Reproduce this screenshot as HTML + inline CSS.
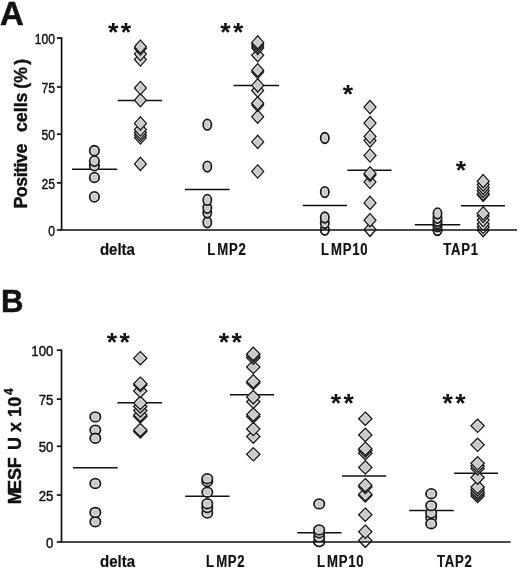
<!DOCTYPE html>
<html><head><meta charset="utf-8"><title>Figure</title>
<style>
html,body{margin:0;padding:0;background:#fff;}
body{width:520px;height:574px;overflow:hidden;}
svg{display:block;will-change:transform;}
text{font-family:"Liberation Sans",sans-serif;fill:#111;}
.panel{font-size:30.5px;font-weight:bold;stroke:#111;stroke-width:0.5px;}
.tick{font-size:15.2px;stroke:#111;stroke-width:0.45px;}
.xl{font-size:15px;font-weight:bold;stroke:#111;stroke-width:0.2px;}
.yl{font-size:17.5px;font-weight:bold;stroke:#111;stroke-width:0.4px;}
.star{font-size:26.6px;font-weight:bold;letter-spacing:2.4px;}
</style></head>
<body>
<svg width="520" height="574" viewBox="0 0 520 574">
<rect width="520" height="574" fill="#fff"/>
<text class="panel" style="font-size:33.4px" transform="translate(0.1,24.6) scale(0.985,1)">A</text>
<text class="panel" style="font-size:31.1px" x="0.9" y="312.0">B</text>
<text class="yl" style="font-size:17.8px" transform="translate(26.8,208.6) rotate(-90)"><tspan letter-spacing="-0.45">Positive</tspan><tspan dx="7.0"> cells</tspan><tspan dx="-1.2"> (%</tspan><tspan dx="-2.7"> )</tspan></text>
<text class="yl" style="font-size:18px" transform="translate(20.9,504.3) rotate(-90)">M<tspan dx="-2.6">ES</tspan><tspan dx="-0.3">F</tspan><tspan dx="2.3"> U x 10</tspan><tspan font-size="12px" dx="1.8" dy="-8.2">4</tspan></text>
<g stroke="#111" stroke-width="1.5" fill="none">
<line x1="72.0" y1="169.2" x2="117.2" y2="169.2"/>
<line x1="117.7" y1="100.4" x2="162.1" y2="100.4"/>
<line x1="185.0" y1="189.5" x2="229.6" y2="189.5"/>
<line x1="233.6" y1="85.5" x2="279.1" y2="85.5"/>
<line x1="302.8" y1="205.6" x2="347.0" y2="205.6"/>
<line x1="347.4" y1="170.2" x2="391.5" y2="170.2"/>
<line x1="414.8" y1="224.7" x2="460.3" y2="224.7"/>
<line x1="460.9" y1="205.7" x2="505.0" y2="205.7"/>
</g>
<g stroke="#1c1c1c" stroke-width="1.35" stroke-linejoin="miter">
<ellipse cx="94.4" cy="196.9" rx="4.7" ry="4.95" fill="#eeeeee" stroke-width="1.8"/><ellipse cx="94.4" cy="196.9" rx="3.00" ry="3.25" fill="#c9c9c9" stroke="none"/>
<ellipse cx="94.4" cy="177.5" rx="4.7" ry="4.95" fill="#eeeeee" stroke-width="1.8"/><ellipse cx="94.4" cy="177.5" rx="3.00" ry="3.25" fill="#c9c9c9" stroke="none"/>
<ellipse cx="94.4" cy="165.7" rx="4.7" ry="4.95" fill="#eeeeee" stroke-width="1.8"/><ellipse cx="94.4" cy="165.7" rx="3.00" ry="3.25" fill="#c9c9c9" stroke="none"/>
<ellipse cx="94.4" cy="161.1" rx="4.7" ry="4.95" fill="#eeeeee" stroke-width="1.8"/><ellipse cx="94.4" cy="161.1" rx="3.00" ry="3.25" fill="#c9c9c9" stroke="none"/>
<ellipse cx="94.4" cy="150.7" rx="4.7" ry="4.95" fill="#eeeeee" stroke-width="1.8"/><ellipse cx="94.4" cy="150.7" rx="3.00" ry="3.25" fill="#c9c9c9" stroke="none"/>
<polygon points="140.4,157.3 146.3,163.9 140.4,170.5 134.5,163.9" fill="#eeeeee"/><polygon points="140.4,159.3 144.4,163.9 140.4,168.5 136.4,163.9" fill="#c9c9c9" stroke="none"/>
<polygon points="140.4,130.9 146.3,137.5 140.4,144.1 134.5,137.5" fill="#eeeeee"/><polygon points="140.4,132.9 144.4,137.5 140.4,142.1 136.4,137.5" fill="#c9c9c9" stroke="none"/>
<polygon points="140.4,128.4 146.3,135.0 140.4,141.6 134.5,135.0" fill="#eeeeee"/><polygon points="140.4,130.4 144.4,135.0 140.4,139.6 136.4,135.0" fill="#c9c9c9" stroke="none"/>
<polygon points="140.4,125.9 146.3,132.5 140.4,139.1 134.5,132.5" fill="#eeeeee"/><polygon points="140.4,127.9 144.4,132.5 140.4,137.1 136.4,132.5" fill="#c9c9c9" stroke="none"/>
<polygon points="140.4,122.9 146.3,129.5 140.4,136.1 134.5,129.5" fill="#eeeeee"/><polygon points="140.4,124.9 144.4,129.5 140.4,134.1 136.4,129.5" fill="#c9c9c9" stroke="none"/>
<polygon points="140.4,116.8 146.3,123.4 140.4,130.0 134.5,123.4" fill="#eeeeee"/><polygon points="140.4,118.8 144.4,123.4 140.4,128.0 136.4,123.4" fill="#c9c9c9" stroke="none"/>
<polygon points="140.4,93.6 146.3,100.2 140.4,106.8 134.5,100.2" fill="#eeeeee"/><polygon points="140.4,95.6 144.4,100.2 140.4,104.8 136.4,100.2" fill="#c9c9c9" stroke="none"/>
<polygon points="140.4,81.4 146.3,88.0 140.4,94.6 134.5,88.0" fill="#eeeeee"/><polygon points="140.4,83.4 144.4,88.0 140.4,92.6 136.4,88.0" fill="#c9c9c9" stroke="none"/>
<polygon points="140.4,52.9 146.3,59.5 140.4,66.1 134.5,59.5" fill="#eeeeee"/><polygon points="140.4,54.9 144.4,59.5 140.4,64.1 136.4,59.5" fill="#c9c9c9" stroke="none"/>
<polygon points="140.4,47.4 146.3,54.0 140.4,60.6 134.5,54.0" fill="#eeeeee"/><polygon points="140.4,49.4 144.4,54.0 140.4,58.6 136.4,54.0" fill="#c9c9c9" stroke="none"/>
<polygon points="140.4,41.8 146.3,48.4 140.4,55.0 134.5,48.4" fill="#eeeeee"/><polygon points="140.4,43.8 144.4,48.4 140.4,53.0 136.4,48.4" fill="#c9c9c9" stroke="none"/>
<polygon points="140.4,40.1 146.3,46.7 140.4,53.3 134.5,46.7" fill="#eeeeee"/><polygon points="140.4,42.1 144.4,46.7 140.4,51.3 136.4,46.7" fill="#c9c9c9" stroke="none"/>
<ellipse cx="207.3" cy="222.3" rx="4.1" ry="5.25" fill="#eeeeee" stroke-width="1.8"/><ellipse cx="207.3" cy="222.3" rx="2.40" ry="3.55" fill="#c9c9c9" stroke="none"/>
<ellipse cx="207.3" cy="212.5" rx="4.1" ry="5.25" fill="#eeeeee" stroke-width="1.8"/><ellipse cx="207.3" cy="212.5" rx="2.40" ry="3.55" fill="#c9c9c9" stroke="none"/>
<ellipse cx="207.3" cy="207.8" rx="4.1" ry="5.25" fill="#eeeeee" stroke-width="1.8"/><ellipse cx="207.3" cy="207.8" rx="2.40" ry="3.55" fill="#c9c9c9" stroke="none"/>
<ellipse cx="207.3" cy="199.9" rx="4.1" ry="5.25" fill="#eeeeee" stroke-width="1.8"/><ellipse cx="207.3" cy="199.9" rx="2.40" ry="3.55" fill="#c9c9c9" stroke="none"/>
<ellipse cx="207.3" cy="166.6" rx="4.1" ry="5.25" fill="#eeeeee" stroke-width="1.8"/><ellipse cx="207.3" cy="166.6" rx="2.40" ry="3.55" fill="#c9c9c9" stroke="none"/>
<ellipse cx="207.3" cy="124.7" rx="4.1" ry="5.25" fill="#eeeeee" stroke-width="1.8"/><ellipse cx="207.3" cy="124.7" rx="2.40" ry="3.55" fill="#c9c9c9" stroke="none"/>
<polygon points="257.7,164.9 263.6,171.5 257.7,178.1 251.8,171.5" fill="#eeeeee"/><polygon points="257.7,166.9 261.7,171.5 257.7,176.1 253.7,171.5" fill="#c9c9c9" stroke="none"/>
<polygon points="257.7,135.3 263.6,141.9 257.7,148.5 251.8,141.9" fill="#eeeeee"/><polygon points="257.7,137.3 261.7,141.9 257.7,146.5 253.7,141.9" fill="#c9c9c9" stroke="none"/>
<polygon points="257.7,110.1 263.6,116.7 257.7,123.3 251.8,116.7" fill="#eeeeee"/><polygon points="257.7,112.1 261.7,116.7 257.7,121.3 253.7,116.7" fill="#c9c9c9" stroke="none"/>
<polygon points="257.7,98.4 263.6,105.0 257.7,111.6 251.8,105.0" fill="#eeeeee"/><polygon points="257.7,100.4 261.7,105.0 257.7,109.6 253.7,105.0" fill="#c9c9c9" stroke="none"/>
<polygon points="257.7,96.7 263.6,103.3 257.7,109.9 251.8,103.3" fill="#eeeeee"/><polygon points="257.7,98.7 261.7,103.3 257.7,107.9 253.7,103.3" fill="#c9c9c9" stroke="none"/>
<polygon points="257.7,83.9 263.6,90.5 257.7,97.1 251.8,90.5" fill="#eeeeee"/><polygon points="257.7,85.9 261.7,90.5 257.7,95.1 253.7,90.5" fill="#c9c9c9" stroke="none"/>
<polygon points="257.7,78.8 263.6,85.4 257.7,92.0 251.8,85.4" fill="#eeeeee"/><polygon points="257.7,80.8 261.7,85.4 257.7,90.0 253.7,85.4" fill="#c9c9c9" stroke="none"/>
<polygon points="257.7,65.4 263.6,72.0 257.7,78.6 251.8,72.0" fill="#eeeeee"/><polygon points="257.7,67.4 261.7,72.0 257.7,76.6 253.7,72.0" fill="#c9c9c9" stroke="none"/>
<polygon points="257.7,63.6 263.6,70.2 257.7,76.8 251.8,70.2" fill="#eeeeee"/><polygon points="257.7,65.6 261.7,70.2 257.7,74.8 253.7,70.2" fill="#c9c9c9" stroke="none"/>
<polygon points="257.7,48.6 263.6,55.2 257.7,61.8 251.8,55.2" fill="#eeeeee"/><polygon points="257.7,50.6 261.7,55.2 257.7,59.8 253.7,55.2" fill="#c9c9c9" stroke="none"/>
<polygon points="257.7,41.4 263.6,48.0 257.7,54.6 251.8,48.0" fill="#eeeeee"/><polygon points="257.7,43.4 261.7,48.0 257.7,52.6 253.7,48.0" fill="#c9c9c9" stroke="none"/>
<polygon points="257.7,39.4 263.6,46.0 257.7,52.6 251.8,46.0" fill="#eeeeee"/><polygon points="257.7,41.4 261.7,46.0 257.7,50.6 253.7,46.0" fill="#c9c9c9" stroke="none"/>
<polygon points="257.7,37.4 263.6,44.0 257.7,50.6 251.8,44.0" fill="#eeeeee"/><polygon points="257.7,39.4 261.7,44.0 257.7,48.6 253.7,44.0" fill="#c9c9c9" stroke="none"/>
<polygon points="257.7,35.8 263.6,42.4 257.7,49.0 251.8,42.4" fill="#eeeeee"/><polygon points="257.7,37.8 261.7,42.4 257.7,47.0 253.7,42.4" fill="#c9c9c9" stroke="none"/>
<ellipse cx="324.8" cy="229.6" rx="4.1" ry="5.25" fill="#eeeeee" stroke-width="1.8"/><ellipse cx="324.8" cy="229.6" rx="2.40" ry="3.55" fill="#c9c9c9" stroke="none"/>
<ellipse cx="324.8" cy="223.0" rx="4.1" ry="5.25" fill="#eeeeee" stroke-width="1.8"/><ellipse cx="324.8" cy="223.0" rx="2.40" ry="3.55" fill="#c9c9c9" stroke="none"/>
<ellipse cx="324.8" cy="217.5" rx="4.1" ry="5.25" fill="#eeeeee" stroke-width="1.8"/><ellipse cx="324.8" cy="217.5" rx="2.40" ry="3.55" fill="#c9c9c9" stroke="none"/>
<ellipse cx="324.8" cy="192.1" rx="4.1" ry="5.25" fill="#eeeeee" stroke-width="1.8"/><ellipse cx="324.8" cy="192.1" rx="2.40" ry="3.55" fill="#c9c9c9" stroke="none"/>
<ellipse cx="324.8" cy="138.0" rx="4.1" ry="5.25" fill="#eeeeee" stroke-width="1.8"/><ellipse cx="324.8" cy="138.0" rx="2.40" ry="3.55" fill="#c9c9c9" stroke="none"/>
<polygon points="370.0,223.0 375.9,229.6 370.0,236.2 364.1,229.6" fill="#eeeeee"/><polygon points="370.0,225.0 374.0,229.6 370.0,234.2 366.0,229.6" fill="#c9c9c9" stroke="none"/>
<polygon points="370.0,213.6 375.9,220.2 370.0,226.8 364.1,220.2" fill="#eeeeee"/><polygon points="370.0,215.6 374.0,220.2 370.0,224.8 366.0,220.2" fill="#c9c9c9" stroke="none"/>
<polygon points="370.0,196.3 375.9,202.9 370.0,209.5 364.1,202.9" fill="#eeeeee"/><polygon points="370.0,198.3 374.0,202.9 370.0,207.5 366.0,202.9" fill="#c9c9c9" stroke="none"/>
<polygon points="370.0,175.4 375.9,182.0 370.0,188.6 364.1,182.0" fill="#eeeeee"/><polygon points="370.0,177.4 374.0,182.0 370.0,186.6 366.0,182.0" fill="#c9c9c9" stroke="none"/>
<polygon points="370.0,168.4 375.9,175.0 370.0,181.6 364.1,175.0" fill="#eeeeee"/><polygon points="370.0,170.4 374.0,175.0 370.0,179.6 366.0,175.0" fill="#c9c9c9" stroke="none"/>
<polygon points="370.0,166.8 375.9,173.4 370.0,180.0 364.1,173.4" fill="#eeeeee"/><polygon points="370.0,168.8 374.0,173.4 370.0,178.0 366.0,173.4" fill="#c9c9c9" stroke="none"/>
<polygon points="370.0,148.9 375.9,155.5 370.0,162.1 364.1,155.5" fill="#eeeeee"/><polygon points="370.0,150.9 374.0,155.5 370.0,160.1 366.0,155.5" fill="#c9c9c9" stroke="none"/>
<polygon points="370.0,134.0 375.9,140.6 370.0,147.2 364.1,140.6" fill="#eeeeee"/><polygon points="370.0,136.0 374.0,140.6 370.0,145.2 366.0,140.6" fill="#c9c9c9" stroke="none"/>
<polygon points="370.0,129.9 375.9,136.5 370.0,143.1 364.1,136.5" fill="#eeeeee"/><polygon points="370.0,131.9 374.0,136.5 370.0,141.1 366.0,136.5" fill="#c9c9c9" stroke="none"/>
<polygon points="370.0,116.5 375.9,123.1 370.0,129.7 364.1,123.1" fill="#eeeeee"/><polygon points="370.0,118.5 374.0,123.1 370.0,127.7 366.0,123.1" fill="#c9c9c9" stroke="none"/>
<polygon points="370.0,100.5 375.9,107.1 370.0,113.7 364.1,107.1" fill="#eeeeee"/><polygon points="370.0,102.5 374.0,107.1 370.0,111.7 366.0,107.1" fill="#c9c9c9" stroke="none"/>
<ellipse cx="437.5" cy="230.0" rx="4.1" ry="5.25" fill="#eeeeee" stroke-width="1.8"/><ellipse cx="437.5" cy="230.0" rx="2.40" ry="3.55" fill="#c9c9c9" stroke="none"/>
<ellipse cx="437.5" cy="226.4" rx="4.1" ry="5.25" fill="#eeeeee" stroke-width="1.8"/><ellipse cx="437.5" cy="226.4" rx="2.40" ry="3.55" fill="#c9c9c9" stroke="none"/>
<ellipse cx="437.5" cy="223.5" rx="4.1" ry="5.25" fill="#eeeeee" stroke-width="1.8"/><ellipse cx="437.5" cy="223.5" rx="2.40" ry="3.55" fill="#c9c9c9" stroke="none"/>
<ellipse cx="437.5" cy="221.0" rx="4.1" ry="5.25" fill="#eeeeee" stroke-width="1.8"/><ellipse cx="437.5" cy="221.0" rx="2.40" ry="3.55" fill="#c9c9c9" stroke="none"/>
<ellipse cx="437.5" cy="217.8" rx="4.1" ry="5.25" fill="#eeeeee" stroke-width="1.8"/><ellipse cx="437.5" cy="217.8" rx="2.40" ry="3.55" fill="#c9c9c9" stroke="none"/>
<ellipse cx="437.5" cy="213.4" rx="4.1" ry="5.25" fill="#eeeeee" stroke-width="1.8"/><ellipse cx="437.5" cy="213.4" rx="2.40" ry="3.55" fill="#c9c9c9" stroke="none"/>
<polygon points="483.2,223.4 489.1,230.0 483.2,236.6 477.3,230.0" fill="#eeeeee"/><polygon points="483.2,225.4 487.2,230.0 483.2,234.6 479.2,230.0" fill="#c9c9c9" stroke="none"/>
<polygon points="483.2,220.4 489.1,227.0 483.2,233.6 477.3,227.0" fill="#eeeeee"/><polygon points="483.2,222.4 487.2,227.0 483.2,231.6 479.2,227.0" fill="#c9c9c9" stroke="none"/>
<polygon points="483.2,217.4 489.1,224.0 483.2,230.6 477.3,224.0" fill="#eeeeee"/><polygon points="483.2,219.4 487.2,224.0 483.2,228.6 479.2,224.0" fill="#c9c9c9" stroke="none"/>
<polygon points="483.2,213.4 489.1,220.0 483.2,226.6 477.3,220.0" fill="#eeeeee"/><polygon points="483.2,215.4 487.2,220.0 483.2,224.6 479.2,220.0" fill="#c9c9c9" stroke="none"/>
<polygon points="483.2,209.4 489.1,216.0 483.2,222.6 477.3,216.0" fill="#eeeeee"/><polygon points="483.2,211.4 487.2,216.0 483.2,220.6 479.2,216.0" fill="#c9c9c9" stroke="none"/>
<polygon points="483.2,206.8 489.1,213.4 483.2,220.0 477.3,213.4" fill="#eeeeee"/><polygon points="483.2,208.8 487.2,213.4 483.2,218.0 479.2,213.4" fill="#c9c9c9" stroke="none"/>
<polygon points="483.2,188.2 489.1,194.8 483.2,201.4 477.3,194.8" fill="#eeeeee"/><polygon points="483.2,190.2 487.2,194.8 483.2,199.4 479.2,194.8" fill="#c9c9c9" stroke="none"/>
<polygon points="483.2,187.2 489.1,193.8 483.2,200.4 477.3,193.8" fill="#eeeeee"/><polygon points="483.2,189.2 487.2,193.8 483.2,198.4 479.2,193.8" fill="#c9c9c9" stroke="none"/>
<polygon points="483.2,184.2 489.1,190.8 483.2,197.4 477.3,190.8" fill="#eeeeee"/><polygon points="483.2,186.2 487.2,190.8 483.2,195.4 479.2,190.8" fill="#c9c9c9" stroke="none"/>
<polygon points="483.2,181.2 489.1,187.8 483.2,194.4 477.3,187.8" fill="#eeeeee"/><polygon points="483.2,183.2 487.2,187.8 483.2,192.4 479.2,187.8" fill="#c9c9c9" stroke="none"/>
<polygon points="483.2,178.0 489.1,184.6 483.2,191.2 477.3,184.6" fill="#eeeeee"/><polygon points="483.2,180.0 487.2,184.6 483.2,189.2 479.2,184.6" fill="#c9c9c9" stroke="none"/>
<polygon points="483.2,174.6 489.1,181.2 483.2,187.8 477.3,181.2" fill="#eeeeee"/><polygon points="483.2,176.6 487.2,181.2 483.2,185.8 479.2,181.2" fill="#c9c9c9" stroke="none"/>
</g>
<clipPath id="clipA"><rect x="0" y="230.0" width="520" height="12"/></clipPath>
<g stroke="#1c1c1c" stroke-width="1.35" clip-path="url(#clipA)">
<ellipse cx="324.8" cy="229.6" rx="4.1" ry="5.25" fill="#fff" stroke-width="1.8"/>
<polygon points="370.0,223.0 375.9,229.6 370.0,236.2 364.1,229.6" fill="#fff"/>
<ellipse cx="437.5" cy="230.0" rx="4.1" ry="5.25" fill="#fff" stroke-width="1.8"/>
<ellipse cx="437.5" cy="226.4" rx="4.1" ry="5.25" fill="#fff" stroke-width="1.8"/>
<polygon points="483.2,223.4 489.1,230.0 483.2,236.6 477.3,230.0" fill="#fff"/>
<polygon points="483.2,220.4 489.1,227.0 483.2,233.6 477.3,227.0" fill="#fff"/>
</g>
<g stroke="#111" stroke-width="1.7" fill="none">
<path d="M61.6,37.2 V230.0 H517"/>
<line x1="56.9" y1="38.0" x2="61.6" y2="38.0"/>
<line x1="56.9" y1="87.0" x2="61.6" y2="87.0"/>
<line x1="56.9" y1="134.2" x2="61.6" y2="134.2"/>
<line x1="56.9" y1="182.9" x2="61.6" y2="182.9"/>
<line x1="56.9" y1="230.0" x2="61.6" y2="230.0"/>
</g>
<text class="tick" transform="translate(55.1,44.0) scale(0.8,1)" text-anchor="end">100</text>
<text class="tick" transform="translate(55.1,93.0) scale(0.8,1)" text-anchor="end">75</text>
<text class="tick" transform="translate(55.1,140.2) scale(0.8,1)" text-anchor="end">50</text>
<text class="tick" transform="translate(55.1,188.9) scale(0.8,1)" text-anchor="end">25</text>
<text class="tick" transform="translate(55.1,236.0) scale(0.8,1)" text-anchor="end">0</text>
<text class="xl" style="font-size:15.8px;letter-spacing:0.0px" transform="translate(117.4,254.5) scale(0.95,1)" text-anchor="middle">delta</text>
<text class="xl" style="font-size:16.0px;letter-spacing:0.9px" transform="translate(226.9,254.5) scale(0.82,1)" text-anchor="middle">L<tspan dx="1.6">M</tspan>P2</text>
<text class="xl" style="font-size:16.0px;letter-spacing:0.9px" transform="translate(344.6,254.5) scale(0.82,1)" text-anchor="middle">L<tspan dx="1.6">M</tspan>P10</text>
<text class="xl" style="font-size:16.0px;letter-spacing:0.9px" transform="translate(461.0,254.5) scale(0.82,1)" text-anchor="middle">TAP1</text>
<text class="star" x="120.7" y="40.6" text-anchor="middle">**</text>
<text class="star" x="232.9" y="40.9" text-anchor="middle">**</text>
<text class="star" x="349.1" y="102.6" text-anchor="middle">*</text>
<text class="star" x="462.1" y="178.79999999999998" text-anchor="middle">*</text>
<g stroke="#111" stroke-width="1.5" fill="none">
<line x1="73.0" y1="467.7" x2="117.6" y2="467.7"/>
<line x1="117.4" y1="402.8" x2="161.9" y2="402.8"/>
<line x1="185.2" y1="496.2" x2="229.6" y2="496.2"/>
<line x1="229.9" y1="394.8" x2="274.1" y2="394.8"/>
<line x1="297.3" y1="532.7" x2="341.5" y2="532.7"/>
<line x1="342.0" y1="475.9" x2="386.2" y2="475.9"/>
<line x1="409.3" y1="510.6" x2="453.8" y2="510.6"/>
<line x1="454.1" y1="473.2" x2="498.2" y2="473.2"/>
</g>
<g stroke="#1c1c1c" stroke-width="1.35" stroke-linejoin="miter">
<ellipse cx="95.3" cy="521.8" rx="5.15" ry="4.8" fill="#eeeeee" stroke-width="1.8"/><ellipse cx="95.3" cy="521.8" rx="3.45" ry="3.10" fill="#c9c9c9" stroke="none"/>
<ellipse cx="95.3" cy="512.4" rx="5.15" ry="4.8" fill="#eeeeee" stroke-width="1.8"/><ellipse cx="95.3" cy="512.4" rx="3.45" ry="3.10" fill="#c9c9c9" stroke="none"/>
<ellipse cx="95.3" cy="483.5" rx="5.15" ry="4.8" fill="#eeeeee" stroke-width="1.8"/><ellipse cx="95.3" cy="483.5" rx="3.45" ry="3.10" fill="#c9c9c9" stroke="none"/>
<ellipse cx="95.3" cy="430.1" rx="5.15" ry="4.8" fill="#eeeeee" stroke-width="1.8"/><ellipse cx="95.3" cy="430.1" rx="3.45" ry="3.10" fill="#c9c9c9" stroke="none"/>
<ellipse cx="95.3" cy="438.3" rx="5.15" ry="4.8" fill="#eeeeee" stroke-width="1.8"/><ellipse cx="95.3" cy="438.3" rx="3.45" ry="3.10" fill="#c9c9c9" stroke="none"/>
<ellipse cx="95.3" cy="416.9" rx="5.15" ry="4.8" fill="#eeeeee" stroke-width="1.8"/><ellipse cx="95.3" cy="416.9" rx="3.45" ry="3.10" fill="#c9c9c9" stroke="none"/>
<polygon points="140.3,424.9 146.9,431.5 140.3,438.1 133.7,431.5" fill="#eeeeee"/><polygon points="140.3,426.9 145.0,431.5 140.3,436.1 135.6,431.5" fill="#c9c9c9" stroke="none"/>
<polygon points="140.3,423.4 146.9,430.0 140.3,436.6 133.7,430.0" fill="#eeeeee"/><polygon points="140.3,425.4 145.0,430.0 140.3,434.6 135.6,430.0" fill="#c9c9c9" stroke="none"/>
<polygon points="140.3,409.9 146.9,416.5 140.3,423.1 133.7,416.5" fill="#eeeeee"/><polygon points="140.3,411.9 145.0,416.5 140.3,421.1 135.6,416.5" fill="#c9c9c9" stroke="none"/>
<polygon points="140.3,408.4 146.9,415.0 140.3,421.6 133.7,415.0" fill="#eeeeee"/><polygon points="140.3,410.4 145.0,415.0 140.3,419.6 135.6,415.0" fill="#c9c9c9" stroke="none"/>
<polygon points="140.3,403.8 146.9,410.4 140.3,417.0 133.7,410.4" fill="#eeeeee"/><polygon points="140.3,405.8 145.0,410.4 140.3,415.0 135.6,410.4" fill="#c9c9c9" stroke="none"/>
<polygon points="140.3,399.9 146.9,406.5 140.3,413.1 133.7,406.5" fill="#eeeeee"/><polygon points="140.3,401.9 145.0,406.5 140.3,411.1 135.6,406.5" fill="#c9c9c9" stroke="none"/>
<polygon points="140.3,396.3 146.9,402.9 140.3,409.5 133.7,402.9" fill="#eeeeee"/><polygon points="140.3,398.3 145.0,402.9 140.3,407.5 135.6,402.9" fill="#c9c9c9" stroke="none"/>
<polygon points="140.3,384.4 146.9,391.0 140.3,397.6 133.7,391.0" fill="#eeeeee"/><polygon points="140.3,386.4 145.0,391.0 140.3,395.6 135.6,391.0" fill="#c9c9c9" stroke="none"/>
<polygon points="140.3,378.4 146.9,385.0 140.3,391.6 133.7,385.0" fill="#eeeeee"/><polygon points="140.3,380.4 145.0,385.0 140.3,389.6 135.6,385.0" fill="#c9c9c9" stroke="none"/>
<polygon points="140.3,377.1 146.9,383.7 140.3,390.3 133.7,383.7" fill="#eeeeee"/><polygon points="140.3,379.1 145.0,383.7 140.3,388.3 135.6,383.7" fill="#c9c9c9" stroke="none"/>
<polygon points="140.3,351.6 146.9,358.2 140.3,364.8 133.7,358.2" fill="#eeeeee"/><polygon points="140.3,353.6 145.0,358.2 140.3,362.8 135.6,358.2" fill="#c9c9c9" stroke="none"/>
<ellipse cx="207.3" cy="513.0" rx="5.15" ry="4.8" fill="#eeeeee" stroke-width="1.8"/><ellipse cx="207.3" cy="513.0" rx="3.45" ry="3.10" fill="#c9c9c9" stroke="none"/>
<ellipse cx="207.3" cy="507.5" rx="5.15" ry="4.8" fill="#eeeeee" stroke-width="1.8"/><ellipse cx="207.3" cy="507.5" rx="3.45" ry="3.10" fill="#c9c9c9" stroke="none"/>
<ellipse cx="207.3" cy="503.7" rx="5.15" ry="4.8" fill="#eeeeee" stroke-width="1.8"/><ellipse cx="207.3" cy="503.7" rx="3.45" ry="3.10" fill="#c9c9c9" stroke="none"/>
<ellipse cx="207.3" cy="492.2" rx="5.15" ry="4.8" fill="#eeeeee" stroke-width="1.8"/><ellipse cx="207.3" cy="492.2" rx="3.45" ry="3.10" fill="#c9c9c9" stroke="none"/>
<ellipse cx="207.3" cy="481.5" rx="5.15" ry="4.8" fill="#eeeeee" stroke-width="1.8"/><ellipse cx="207.3" cy="481.5" rx="3.45" ry="3.10" fill="#c9c9c9" stroke="none"/>
<ellipse cx="207.3" cy="478.7" rx="5.15" ry="4.8" fill="#eeeeee" stroke-width="1.8"/><ellipse cx="207.3" cy="478.7" rx="3.45" ry="3.10" fill="#c9c9c9" stroke="none"/>
<polygon points="253.3,447.7 259.9,454.3 253.3,460.9 246.7,454.3" fill="#eeeeee"/><polygon points="253.3,449.7 258.0,454.3 253.3,458.9 248.6,454.3" fill="#c9c9c9" stroke="none"/>
<polygon points="253.3,430.0 259.9,436.6 253.3,443.2 246.7,436.6" fill="#eeeeee"/><polygon points="253.3,432.0 258.0,436.6 253.3,441.2 248.6,436.6" fill="#c9c9c9" stroke="none"/>
<polygon points="253.3,422.4 259.9,429.0 253.3,435.6 246.7,429.0" fill="#eeeeee"/><polygon points="253.3,424.4 258.0,429.0 253.3,433.6 248.6,429.0" fill="#c9c9c9" stroke="none"/>
<polygon points="253.3,409.8 259.9,416.4 253.3,423.0 246.7,416.4" fill="#eeeeee"/><polygon points="253.3,411.8 258.0,416.4 253.3,421.0 248.6,416.4" fill="#c9c9c9" stroke="none"/>
<polygon points="253.3,408.0 259.9,414.6 253.3,421.2 246.7,414.6" fill="#eeeeee"/><polygon points="253.3,410.0 258.0,414.6 253.3,419.2 248.6,414.6" fill="#c9c9c9" stroke="none"/>
<polygon points="253.3,395.2 259.9,401.8 253.3,408.4 246.7,401.8" fill="#eeeeee"/><polygon points="253.3,397.2 258.0,401.8 253.3,406.4 248.6,401.8" fill="#c9c9c9" stroke="none"/>
<polygon points="253.3,390.5 259.9,397.1 253.3,403.7 246.7,397.1" fill="#eeeeee"/><polygon points="253.3,392.5 258.0,397.1 253.3,401.7 248.6,397.1" fill="#c9c9c9" stroke="none"/>
<polygon points="253.3,376.4 259.9,383.0 253.3,389.6 246.7,383.0" fill="#eeeeee"/><polygon points="253.3,378.4 258.0,383.0 253.3,387.6 248.6,383.0" fill="#c9c9c9" stroke="none"/>
<polygon points="253.3,374.8 259.9,381.4 253.3,388.0 246.7,381.4" fill="#eeeeee"/><polygon points="253.3,376.8 258.0,381.4 253.3,386.0 248.6,381.4" fill="#c9c9c9" stroke="none"/>
<polygon points="253.3,360.4 259.9,367.0 253.3,373.6 246.7,367.0" fill="#eeeeee"/><polygon points="253.3,362.4 258.0,367.0 253.3,371.6 248.6,367.0" fill="#c9c9c9" stroke="none"/>
<polygon points="253.3,351.2 259.9,357.8 253.3,364.4 246.7,357.8" fill="#eeeeee"/><polygon points="253.3,353.2 258.0,357.8 253.3,362.4 248.6,357.8" fill="#c9c9c9" stroke="none"/>
<polygon points="253.3,349.1 259.9,355.7 253.3,362.3 246.7,355.7" fill="#eeeeee"/><polygon points="253.3,351.1 258.0,355.7 253.3,360.3 248.6,355.7" fill="#c9c9c9" stroke="none"/>
<polygon points="253.3,347.3 259.9,353.9 253.3,360.5 246.7,353.9" fill="#eeeeee"/><polygon points="253.3,349.3 258.0,353.9 253.3,358.5 248.6,353.9" fill="#c9c9c9" stroke="none"/>
<ellipse cx="319.2" cy="541.5" rx="5.15" ry="4.8" fill="#eeeeee" stroke-width="1.8"/><ellipse cx="319.2" cy="541.5" rx="3.45" ry="3.10" fill="#c9c9c9" stroke="none"/>
<ellipse cx="319.2" cy="537.0" rx="5.15" ry="4.8" fill="#eeeeee" stroke-width="1.8"/><ellipse cx="319.2" cy="537.0" rx="3.45" ry="3.10" fill="#c9c9c9" stroke="none"/>
<ellipse cx="319.2" cy="532.8" rx="5.15" ry="4.8" fill="#eeeeee" stroke-width="1.8"/><ellipse cx="319.2" cy="532.8" rx="3.45" ry="3.10" fill="#c9c9c9" stroke="none"/>
<ellipse cx="319.2" cy="529.9" rx="5.15" ry="4.8" fill="#eeeeee" stroke-width="1.8"/><ellipse cx="319.2" cy="529.9" rx="3.45" ry="3.10" fill="#c9c9c9" stroke="none"/>
<ellipse cx="319.2" cy="503.9" rx="5.15" ry="4.8" fill="#eeeeee" stroke-width="1.8"/><ellipse cx="319.2" cy="503.9" rx="3.45" ry="3.10" fill="#c9c9c9" stroke="none"/>
<polygon points="365.3,534.0 371.9,540.6 365.3,547.2 358.7,540.6" fill="#eeeeee"/><polygon points="365.3,536.0 370.0,540.6 365.3,545.2 360.6,540.6" fill="#c9c9c9" stroke="none"/>
<polygon points="365.3,525.1 371.9,531.7 365.3,538.3 358.7,531.7" fill="#eeeeee"/><polygon points="365.3,527.1 370.0,531.7 365.3,536.3 360.6,531.7" fill="#c9c9c9" stroke="none"/>
<polygon points="365.3,508.1 371.9,514.7 365.3,521.3 358.7,514.7" fill="#eeeeee"/><polygon points="365.3,510.1 370.0,514.7 365.3,519.3 360.6,514.7" fill="#c9c9c9" stroke="none"/>
<polygon points="365.3,488.9 371.9,495.5 365.3,502.1 358.7,495.5" fill="#eeeeee"/><polygon points="365.3,490.9 370.0,495.5 365.3,500.1 360.6,495.5" fill="#c9c9c9" stroke="none"/>
<polygon points="365.3,487.7 371.9,494.3 365.3,500.9 358.7,494.3" fill="#eeeeee"/><polygon points="365.3,489.7 370.0,494.3 365.3,498.9 360.6,494.3" fill="#c9c9c9" stroke="none"/>
<polygon points="365.3,480.4 371.9,487.0 365.3,493.6 358.7,487.0" fill="#eeeeee"/><polygon points="365.3,482.4 370.0,487.0 365.3,491.6 360.6,487.0" fill="#c9c9c9" stroke="none"/>
<polygon points="365.3,478.6 371.9,485.2 365.3,491.8 358.7,485.2" fill="#eeeeee"/><polygon points="365.3,480.6 370.0,485.2 365.3,489.8 360.6,485.2" fill="#c9c9c9" stroke="none"/>
<polygon points="365.3,460.8 371.9,467.4 365.3,474.0 358.7,467.4" fill="#eeeeee"/><polygon points="365.3,462.8 370.0,467.4 365.3,472.0 360.6,467.4" fill="#c9c9c9" stroke="none"/>
<polygon points="365.3,446.6 371.9,453.2 365.3,459.8 358.7,453.2" fill="#eeeeee"/><polygon points="365.3,448.6 370.0,453.2 365.3,457.8 360.6,453.2" fill="#c9c9c9" stroke="none"/>
<polygon points="365.3,443.9 371.9,450.5 365.3,457.1 358.7,450.5" fill="#eeeeee"/><polygon points="365.3,445.9 370.0,450.5 365.3,455.1 360.6,450.5" fill="#c9c9c9" stroke="none"/>
<polygon points="365.3,442.1 371.9,448.7 365.3,455.3 358.7,448.7" fill="#eeeeee"/><polygon points="365.3,444.1 370.0,448.7 365.3,453.3 360.6,448.7" fill="#c9c9c9" stroke="none"/>
<polygon points="365.3,428.3 371.9,434.9 365.3,441.5 358.7,434.9" fill="#eeeeee"/><polygon points="365.3,430.3 370.0,434.9 365.3,439.5 360.6,434.9" fill="#c9c9c9" stroke="none"/>
<polygon points="365.3,412.1 371.9,418.7 365.3,425.3 358.7,418.7" fill="#eeeeee"/><polygon points="365.3,414.1 370.0,418.7 365.3,423.3 360.6,418.7" fill="#c9c9c9" stroke="none"/>
<ellipse cx="431.2" cy="517.5" rx="5.15" ry="4.8" fill="#eeeeee" stroke-width="1.8"/><ellipse cx="431.2" cy="517.5" rx="3.45" ry="3.10" fill="#c9c9c9" stroke="none"/>
<ellipse cx="431.2" cy="523.7" rx="5.15" ry="4.8" fill="#eeeeee" stroke-width="1.8"/><ellipse cx="431.2" cy="523.7" rx="3.45" ry="3.10" fill="#c9c9c9" stroke="none"/>
<ellipse cx="431.2" cy="513.0" rx="5.15" ry="4.8" fill="#eeeeee" stroke-width="1.8"/><ellipse cx="431.2" cy="513.0" rx="3.45" ry="3.10" fill="#c9c9c9" stroke="none"/>
<ellipse cx="431.2" cy="505.6" rx="5.15" ry="4.8" fill="#eeeeee" stroke-width="1.8"/><ellipse cx="431.2" cy="505.6" rx="3.45" ry="3.10" fill="#c9c9c9" stroke="none"/>
<ellipse cx="431.2" cy="493.7" rx="5.15" ry="4.8" fill="#eeeeee" stroke-width="1.8"/><ellipse cx="431.2" cy="493.7" rx="3.45" ry="3.10" fill="#c9c9c9" stroke="none"/>
<polygon points="477.6,489.4 484.2,496.0 477.6,502.6 471.0,496.0" fill="#eeeeee"/><polygon points="477.6,491.4 482.3,496.0 477.6,500.6 472.9,496.0" fill="#c9c9c9" stroke="none"/>
<polygon points="477.6,487.4 484.2,494.0 477.6,500.6 471.0,494.0" fill="#eeeeee"/><polygon points="477.6,489.4 482.3,494.0 477.6,498.6 472.9,494.0" fill="#c9c9c9" stroke="none"/>
<polygon points="477.6,485.4 484.2,492.0 477.6,498.6 471.0,492.0" fill="#eeeeee"/><polygon points="477.6,487.4 482.3,492.0 477.6,496.6 472.9,492.0" fill="#c9c9c9" stroke="none"/>
<polygon points="477.6,482.9 484.2,489.5 477.6,496.1 471.0,489.5" fill="#eeeeee"/><polygon points="477.6,484.9 482.3,489.5 477.6,494.1 472.9,489.5" fill="#c9c9c9" stroke="none"/>
<polygon points="477.6,480.4 484.2,487.0 477.6,493.6 471.0,487.0" fill="#eeeeee"/><polygon points="477.6,482.4 482.3,487.0 477.6,491.6 472.9,487.0" fill="#c9c9c9" stroke="none"/>
<polygon points="477.6,471.0 484.2,477.6 477.6,484.2 471.0,477.6" fill="#eeeeee"/><polygon points="477.6,473.0 482.3,477.6 477.6,482.2 472.9,477.6" fill="#c9c9c9" stroke="none"/>
<polygon points="477.6,461.9 484.2,468.5 477.6,475.1 471.0,468.5" fill="#eeeeee"/><polygon points="477.6,463.9 482.3,468.5 477.6,473.1 472.9,468.5" fill="#c9c9c9" stroke="none"/>
<polygon points="477.6,459.4 484.2,466.0 477.6,472.6 471.0,466.0" fill="#eeeeee"/><polygon points="477.6,461.4 482.3,466.0 477.6,470.6 472.9,466.0" fill="#c9c9c9" stroke="none"/>
<polygon points="477.6,456.7 484.2,463.3 477.6,469.9 471.0,463.3" fill="#eeeeee"/><polygon points="477.6,458.7 482.3,463.3 477.6,467.9 472.9,463.3" fill="#c9c9c9" stroke="none"/>
<polygon points="477.6,438.2 484.2,444.8 477.6,451.4 471.0,444.8" fill="#eeeeee"/><polygon points="477.6,440.2 482.3,444.8 477.6,449.4 472.9,444.8" fill="#c9c9c9" stroke="none"/>
<polygon points="477.6,419.2 484.2,425.8 477.6,432.4 471.0,425.8" fill="#eeeeee"/><polygon points="477.6,421.2 482.3,425.8 477.6,430.4 472.9,425.8" fill="#c9c9c9" stroke="none"/>
</g>
<clipPath id="clipB"><rect x="0" y="542.0" width="520" height="12"/></clipPath>
<g stroke="#1c1c1c" stroke-width="1.35" clip-path="url(#clipB)">
<ellipse cx="319.2" cy="541.5" rx="5.15" ry="4.8" fill="#fff" stroke-width="1.8"/>
<polygon points="365.3,534.0 371.9,540.6 365.3,547.2 358.7,540.6" fill="#fff"/>
</g>
<g stroke="#111" stroke-width="1.7" fill="none">
<path d="M61.5,349.4 V542.0 H510.6"/>
<line x1="56.8" y1="350.2" x2="61.5" y2="350.2"/>
<line x1="56.8" y1="399.1" x2="61.5" y2="399.1"/>
<line x1="56.8" y1="446.3" x2="61.5" y2="446.3"/>
<line x1="56.8" y1="495.0" x2="61.5" y2="495.0"/>
<line x1="56.8" y1="542.0" x2="61.5" y2="542.0"/>
</g>
<text class="tick" transform="translate(53.4,356.2) scale(0.87,1)" text-anchor="end">100</text>
<text class="tick" transform="translate(53.4,405.1) scale(0.87,1)" text-anchor="end">75</text>
<text class="tick" transform="translate(53.4,452.3) scale(0.87,1)" text-anchor="end">50</text>
<text class="tick" transform="translate(53.4,501.0) scale(0.87,1)" text-anchor="end">25</text>
<text class="tick" transform="translate(53.4,548.0) scale(0.87,1)" text-anchor="end">0</text>
<text class="xl" style="font-size:15.8px;letter-spacing:0.0px" transform="translate(117.5,566.8000000000001) scale(0.95,1)" text-anchor="middle">delta</text>
<text class="xl" style="font-size:16.0px;letter-spacing:0.9px" transform="translate(225.7,566.8000000000001) scale(0.82,1)" text-anchor="middle">L<tspan dx="1.6">M</tspan>P2</text>
<text class="xl" style="font-size:16.0px;letter-spacing:0.9px" transform="translate(340.6,566.8000000000001) scale(0.82,1)" text-anchor="middle">L<tspan dx="1.6">M</tspan>P10</text>
<text class="xl" style="font-size:16.0px;letter-spacing:0.9px" transform="translate(454.8,566.8000000000001) scale(0.82,1)" text-anchor="middle">TAP2</text>
<text class="star" x="119.5" y="350.90000000000003" text-anchor="middle">**</text>
<text class="star" x="231.5" y="350.90000000000003" text-anchor="middle">**</text>
<text class="star" x="343.5" y="411.6" text-anchor="middle">**</text>
<text class="star" x="455.2" y="411.6" text-anchor="middle">**</text>
</svg>
</body></html>
